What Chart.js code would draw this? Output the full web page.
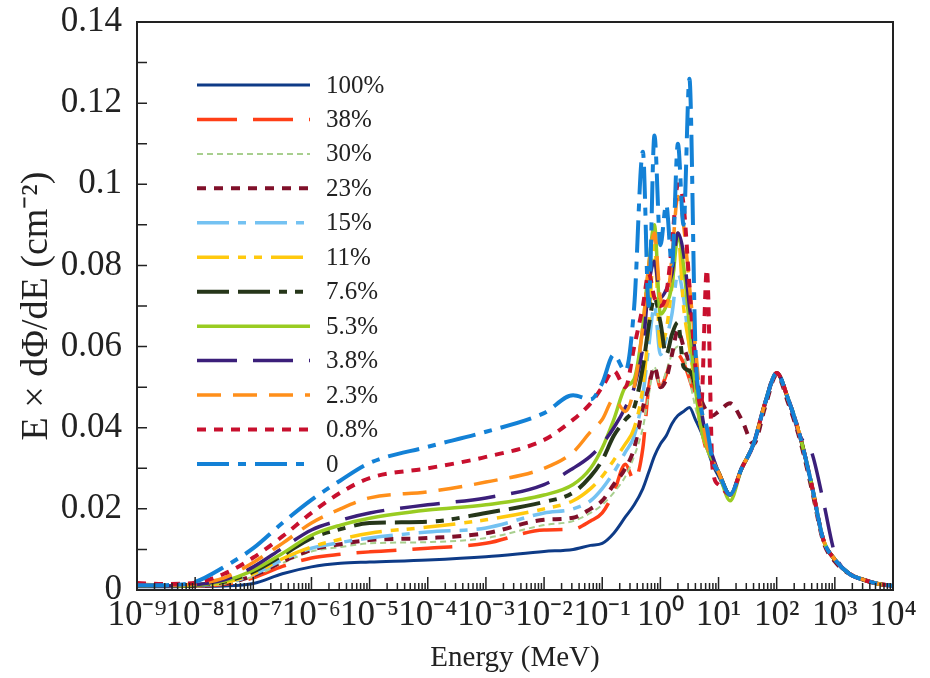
<!DOCTYPE html>
<html>
<head>
<meta charset="utf-8">
<script src="https://cdn.jsdelivr.net/npm/chart.js@4.4.1/dist/chart.umd.min.js"></script>
<style>
  html, body { margin: 0; padding: 0; background: #fff; }
  #wrap { width: 930px; height: 678px; }
</style>
</head>
<body>
<div id="wrap"><canvas id="fluxChart" width="930" height="678"></canvas></div>
<script>
// Energy grid (MeV) shared by every curve
const energies = [1e-9, 3.16e-9, 1e-8, 3.16e-8, 1e-7, 3.16e-7, 1e-6, 3.16e-6, 1e-5, 1e-4, 1e-3, 1e-2,
  0.0316, 0.063, 0.1, 0.158, 0.25, 0.355, 0.5, 0.63, 0.79, 1, 1.26, 1.58, 2, 2.5, 3.16, 4, 5, 6.3, 7.9,
  10, 15.8, 25, 40, 63, 100, 158, 251, 398, 631, 1000, 1778, 3162, 5623, 10000];

const xTickValues = [1e-9, 1e-8, 1e-7, 1e-6, 1e-5, 1e-4, 1e-3, 1e-2, 1e-1, 1, 10, 100, 1000, 10000];
const xTickLabels = ['10⁻⁹', '10⁻⁸', '10⁻⁷', '10⁻⁶', '10⁻⁵', '10⁻⁴', '10⁻³', '10⁻²', '10⁻¹', '10⁰', '10¹', '10²', '10³', '10⁴'];
const yTickValues = [0, 0.02, 0.04, 0.06, 0.08, 0.1, 0.12, 0.14];
const yTickLabels = ['0', '0.02', '0.04', '0.06', '0.08', '0.1', '0.12', '0.14'];

const seriesLabels = ['100%', '38%', '30%', '23%', '15%', '11%', '7.6%', '5.3%', '3.8%', '2.3%', '0.8%', '0'];

const flux100 = [0.0008, 0.0008, 0.0009, 0.001, 0.0016, 0.004, 0.0057, 0.0066, 0.0069, 0.0074, 0.0082, 0.0095,
  0.01, 0.011, 0.0115, 0.014, 0.018, 0.021, 0.025, 0.029, 0.033, 0.036, 0.038, 0.041, 0.043, 0.044, 0.045, 0.042, 0.039, 0.035, 0.031,
  0.028, 0.0235, 0.030, 0.036, 0.046, 0.0535, 0.047, 0.038, 0.026, 0.0125, 0.0075, 0.004, 0.0025, 0.0015, 0.001];
const flux38 = [0.0011, 0.0009, 0.001, 0.0014, 0.003, 0.0058, 0.0079, 0.0088, 0.0094, 0.0103, 0.0115, 0.0148,
  0.015, 0.017, 0.019, 0.024, 0.031, 0.027, 0.035, 0.05, 0.055, 0.05, 0.053, 0.057, 0.058, 0.056, 0.052, 0.047, 0.04, 0.034, 0.031,
  0.029, 0.0235, 0.030, 0.036, 0.046, 0.0535, 0.047, 0.038, 0.026, 0.0125, 0.0075, 0.004, 0.0025, 0.0015, 0.001];
const flux30 = [0.0011, 0.001, 0.001, 0.0015, 0.0033, 0.0066, 0.0095, 0.0106, 0.0115, 0.0118, 0.0128, 0.016,
  0.017, 0.019, 0.021, 0.024, 0.028, 0.033, 0.04, 0.048, 0.055, 0.05, 0.054, 0.058, 0.06, 0.058, 0.052, 0.045, 0.04, 0.035, 0.032,
  0.029, 0.0235, 0.030, 0.036, 0.046, 0.0535, 0.047, 0.038, 0.026, 0.0125, 0.0075, 0.004, 0.0025, 0.0015, 0.001];
const flux23 = [0.0012, 0.001, 0.001, 0.0016, 0.0035, 0.007, 0.0099, 0.0113, 0.0123, 0.0128, 0.014, 0.0173,
  0.0178, 0.02, 0.022, 0.026, 0.03, 0.035, 0.045, 0.05, 0.055, 0.05, 0.052, 0.058, 0.064, 0.06, 0.056, 0.052, 0.047, 0.044, 0.043,
  0.044, 0.046, 0.042, 0.036, 0.045, 0.053, 0.046, 0.037, 0.025, 0.012, 0.007, 0.004, 0.0025, 0.0015, 0.001];
const flux15 = [0.0011, 0.001, 0.0011, 0.0017, 0.0038, 0.0074, 0.0103, 0.0117, 0.0128, 0.0143, 0.0153, 0.019,
  0.02, 0.022, 0.025, 0.029, 0.034, 0.038, 0.048, 0.06, 0.07, 0.058, 0.062, 0.068, 0.078, 0.072, 0.06, 0.05, 0.04, 0.035, 0.032,
  0.029, 0.0235, 0.030, 0.036, 0.046, 0.0535, 0.047, 0.038, 0.026, 0.0125, 0.0075, 0.004, 0.0025, 0.0015, 0.001];
const flux11 = [0.0012, 0.001, 0.0011, 0.0018, 0.004, 0.0077, 0.0106, 0.0125, 0.014, 0.0155, 0.0173, 0.02,
  0.022, 0.025, 0.028, 0.032, 0.036, 0.04, 0.05, 0.065, 0.085, 0.06, 0.064, 0.075, 0.088, 0.07, 0.06, 0.05, 0.04, 0.035, 0.032,
  0.029, 0.0235, 0.030, 0.036, 0.046, 0.0535, 0.047, 0.038, 0.026, 0.0125, 0.0075, 0.004, 0.0025, 0.0015, 0.001];
const flux7_6 = [0.0012, 0.001, 0.0012, 0.002, 0.0045, 0.0085, 0.0128, 0.015, 0.0165, 0.0168, 0.019, 0.0217,
  0.024, 0.028, 0.032, 0.038, 0.042, 0.045, 0.055, 0.065, 0.072, 0.066, 0.058, 0.063, 0.066, 0.055, 0.054, 0.05, 0.042, 0.036, 0.032,
  0.029, 0.0235, 0.030, 0.036, 0.046, 0.0535, 0.047, 0.038, 0.026, 0.0125, 0.0075, 0.004, 0.0025, 0.0015, 0.001];
const flux5_3 = [0.0012, 0.001, 0.0012, 0.0022, 0.0049, 0.009, 0.0135, 0.016, 0.0177, 0.0197, 0.021, 0.0234,
  0.026, 0.03, 0.035, 0.042, 0.05, 0.052, 0.065, 0.08, 0.09, 0.068, 0.07, 0.075, 0.087, 0.08, 0.065, 0.05, 0.04, 0.035, 0.032,
  0.029, 0.022, 0.030, 0.036, 0.046, 0.0535, 0.047, 0.038, 0.026, 0.0125, 0.0075, 0.004, 0.0025, 0.0015, 0.001];
const flux3_8 = [0.0012, 0.001, 0.0013, 0.0025, 0.0057, 0.0103, 0.0148, 0.0172, 0.019, 0.021, 0.0227, 0.026,
  0.03, 0.033, 0.036, 0.04, 0.045, 0.05, 0.06, 0.075, 0.081, 0.072, 0.074, 0.078, 0.088, 0.083, 0.07, 0.058, 0.045, 0.037, 0.033,
  0.029, 0.0235, 0.030, 0.036, 0.046, 0.0535, 0.047, 0.038, 0.034, 0.022, 0.009, 0.004, 0.0025, 0.0015, 0.001];
const flux2_3 = [0.0015, 0.0012, 0.0015, 0.003, 0.0068, 0.0115, 0.0165, 0.02, 0.0227, 0.0242, 0.0266, 0.030,
  0.034, 0.039, 0.042, 0.047, 0.044, 0.05, 0.065, 0.08, 0.088, 0.072, 0.07, 0.082, 0.097, 0.09, 0.075, 0.06, 0.045, 0.036, 0.032,
  0.029, 0.0235, 0.030, 0.036, 0.046, 0.0535, 0.047, 0.038, 0.026, 0.0125, 0.0075, 0.004, 0.0025, 0.0015, 0.001];
const flux0_8 = [0.0017, 0.0015, 0.0018, 0.004, 0.008, 0.0132, 0.019, 0.024, 0.0276, 0.030, 0.0328, 0.037,
  0.042, 0.046, 0.05, 0.054, 0.05, 0.06, 0.07, 0.078, 0.072, 0.07, 0.073, 0.085, 0.1, 0.095, 0.075, 0.055, 0.045, 0.079, 0.03,
  0.026, 0.0235, 0.030, 0.036, 0.046, 0.0535, 0.047, 0.038, 0.026, 0.0125, 0.0075, 0.004, 0.0025, 0.0015, 0.001];
const flux0 = [0.0012, 0.0012, 0.002, 0.0057, 0.0103, 0.0165, 0.0222, 0.027, 0.0313, 0.0353, 0.039, 0.0436,
  0.048, 0.047, 0.051, 0.058, 0.054, 0.07, 0.108, 0.07, 0.112, 0.085, 0.095, 0.08, 0.11, 0.09, 0.126, 0.06, 0.045, 0.04, 0.032,
  0.029, 0.0235, 0.030, 0.036, 0.046, 0.0535, 0.047, 0.038, 0.026, 0.0125, 0.0075, 0.004, 0.0025, 0.0015, 0.001];

const seriesValues = [flux100, flux38, flux30, flux23, flux15, flux11, flux7_6, flux5_3, flux3_8, flux2_3, flux0_8, flux0];

// Line look per series (same order as the labels)
const lineStyles = [
  { color: '#0e3b87', width: 3,   dash: [] },
  { color: '#ff3f17', width: 3.5, dash: [40, 16] },
  { color: '#a8cf8e', width: 2,   dash: [6, 4] },
  { color: '#80102a', width: 4,   dash: [9, 8] },
  { color: '#74c2f2', width: 3.5, dash: [32, 9, 8, 9] },
  { color: '#ffc90e', width: 3.5, dash: [32, 9, 8, 8, 8, 9] },
  { color: '#26361a', width: 4,   dash: [32, 9, 32, 9, 8, 8, 8, 9] },
  { color: '#99cc22', width: 3.5, dash: [] },
  { color: '#3b1f7a', width: 3.5, dash: [40, 16] },
  { color: '#ff8f1a', width: 3.5, dash: [24, 12] },
  { color: '#c8102e', width: 4,   dash: [9, 8] },
  { color: '#1381d6', width: 4,   dash: [32, 9, 8, 9] }
];

const serif = "'Liberation Serif', 'Times New Roman', serif";
const textColor = '#222';

const datasets = seriesLabels.map((label, i) => ({
  label: label,
  data: energies.map((e, j) => ({ x: e, y: seriesValues[i][j] })),
  borderColor: lineStyles[i].color,
  borderWidth: lineStyles[i].width,
  borderDash: lineStyles[i].dash,
  pointRadius: 0,
  fill: false,
  order: seriesLabels.length - i
}));

// Box around the plot plus inward ticks (major and minor)
const frameTicks = {
  id: 'frameTicks',
  afterDatasetsDraw(chart) {
    const { ctx, chartArea: a, scales: { x, y } } = chart;
    ctx.save();
    ctx.strokeStyle = textColor;
    ctx.lineWidth = 2;
    ctx.strokeRect(a.left, a.top, a.right - a.left, a.bottom - a.top);
    ctx.lineWidth = 1.5;
    ctx.beginPath();
    for (let d = -9; d < 4; d++) {
      for (let k = 1; k <= 9; k++) {
        const px = x.getPixelForValue(k * Math.pow(10, d));
        const len = k === 1 ? 13 : 7;
        ctx.moveTo(px, a.bottom);
        ctx.lineTo(px, a.bottom - len);
      }
    }
    for (let i = 0; i <= 14; i++) {
      const py = y.getPixelForValue(i * 0.01);
      ctx.moveTo(a.left, py);
      ctx.lineTo(a.left + 10, py);
    }
    ctx.stroke();
    ctx.restore();
  }
};

// Legend drawn inside the plot, top-left
const insideLegend = {
  id: 'insideLegend',
  afterDraw(chart) {
    const ctx = chart.ctx;
    ctx.save();
    ctx.font = '25px ' + serif;
    ctx.textBaseline = 'middle';
    ctx.fillStyle = textColor;
    chart.data.datasets.forEach((ds, i) => {
      const yy = 85 + i * 34.45;
      ctx.strokeStyle = ds.borderColor;
      ctx.lineWidth = ds.borderWidth;
      ctx.setLineDash(ds.borderDash || []);
      ctx.beginPath();
      ctx.moveTo(197, yy);
      ctx.lineTo(310, yy);
      ctx.stroke();
      ctx.setLineDash([]);
      ctx.fillText(ds.label, 326, yy + 1);
    });
    ctx.restore();
  }
};

const fluxChart = new Chart(document.getElementById('fluxChart'), {
  type: 'line',
  data: { datasets: datasets },
  options: {
    responsive: false,
    animation: false,
    layout: { padding: { top: 22, right: 37, left: 0, bottom: 0 } },
    elements: { line: { borderCapStyle: 'butt', cubicInterpolationMode: 'monotone' } },
    plugins: { legend: { display: false }, tooltip: { enabled: false } },
    scales: {
      x: {
        type: 'logarithmic',
        min: 1e-9,
        max: 1e4,
        afterBuildTicks: s => { s.ticks = xTickValues.map(v => ({ value: v })); },
        afterFit: s => { s.height = 88; s.paddingLeft = 0; s.paddingRight = 0; },
        grid: { display: false, drawTicks: false },
        border: { display: false },
        ticks: {
          autoSkip: false, maxRotation: 0, minRotation: 0, padding: 5, color: textColor,
          font: { family: serif, size: 35 },
          callback: (v, i) => xTickLabels[i]
        },
        title: { display: true, text: 'Energy (MeV)', color: textColor, font: { family: serif, size: 29 }, padding: { top: 0, bottom: 2 } }
      },
      y: {
        min: 0,
        max: 0.14,
        afterBuildTicks: s => { s.ticks = yTickValues.map(v => ({ value: v })); },
        afterFit: s => { s.width = 137; s.paddingTop = 0; s.paddingBottom = 0; },
        grid: { display: false, drawTicks: false },
        border: { display: false },
        ticks: {
          padding: 15, color: textColor,
          font: { family: serif, size: 35 },
          callback: (v, i) => yTickLabels[i]
        },
        title: { display: true, text: 'E × dΦ/dE (cm⁻²)', color: textColor, font: { family: serif, size: 38 }, padding: { top: 14, bottom: 0 } }
      }
    }
  },
  plugins: [frameTicks, insideLegend]
});
</script>
</body>
</html>
